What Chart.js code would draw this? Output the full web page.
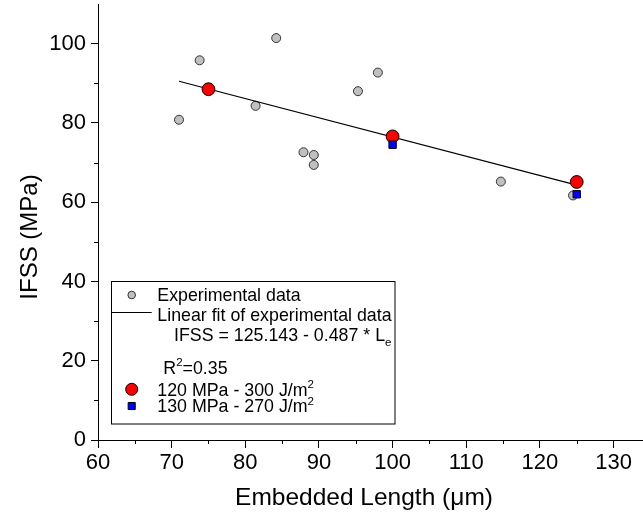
<!DOCTYPE html>
<html><head><meta charset="utf-8">
<script src="https://cdn.jsdelivr.net/npm/chart.js@4.4.1/dist/chart.umd.min.js"></script>
<style>html,body{margin:0;padding:0;background:#fff;}#wrap{position:relative;width:643px;height:516px;}</style>
</head><body><div id="wrap"><canvas id="c" width="643" height="516"></canvas></div>
<script>
// ---- data ----
const expX = [71.0, 73.8, 81.4, 84.2, 87.9, 89.3, 89.3, 95.3, 98.0, 114.7, 124.5];
const expY = [80.8, 95.8, 84.3, 101.4, 72.6, 71.9, 69.4, 88.0, 92.7, 65.2, 61.7];
const fitX = [71.0, 125.0];
const fitY = [90.5, 64.3];
const model120X = [75, 100, 125];
const model120Y = [88.5, 76.6, 65.1];
const model130X = [100, 125];
const model130Y = [74.5, 62.0];
const xMajorTicks = [60, 70, 80, 90, 100, 110, 120, 130];
const xMinorTicks = [65, 75, 85, 95, 105, 115, 125];
const yMajorTicks = [0, 20, 40, 60, 80, 100];
const yMinorTicks = [10, 30, 50, 70, 90];
const seriesNames = ['Experimental data', 'Linear fit of experimental data', '120 MPa - 300 J/m', '130 MPa - 270 J/m'];
const fitEquation = ['IFSS = 125.143 - 0.487 * L', 'e'];
const fitR2 = ['R', '2', '=0.35'];
const xTitle = 'Embedded Length (\u03BCm)';
const yTitle = 'IFSS (MPa)';

const FONT = '"Liberation Sans", Arial, sans-serif';
const pts = (xs, ys) => xs.map((x, i) => ({x: x, y: ys[i]}));

const minorTicks = {
  id: 'minorTicks',
  afterDraw(chart) {
    const ctx = chart.ctx, xs = chart.scales.x, ys = chart.scales.y;
    ctx.save();
    ctx.strokeStyle = '#000'; ctx.lineWidth = 1;
    ctx.beginPath();
    xMinorTicks.forEach(v => { const p = Math.round(xs.getPixelForValue(v)) + 0.5; ctx.moveTo(p, xs.top); ctx.lineTo(p, xs.top + 4); });
    yMinorTicks.forEach(v => { const p = Math.round(ys.getPixelForValue(v)) + 0.5; ctx.moveTo(ys.right, p); ctx.lineTo(ys.right - 4, p); });
    ctx.stroke();
    ctx.restore();
  }
};

const axisTitles = {
  id: 'axisTitles',
  afterDraw(chart) {
    const ctx = chart.ctx;
    ctx.save();
    ctx.fillStyle = '#000';
    ctx.textAlign = 'center'; ctx.textBaseline = 'alphabetic';
    ctx.font = '24.5px ' + FONT;
    ctx.fillText(xTitle, 364, 505);
    ctx.font = '24px ' + FONT;
    ctx.translate(37, 237);
    ctx.rotate(-Math.PI / 2);
    ctx.fillText(yTitle, 0, 0);
    ctx.restore();
  }
};

function rich(ctx, x, y, segs, size) {
  let cx = x;
  segs.forEach(s => {
    const sz = s.k ? size * 0.65 : size;
    ctx.font = sz + 'px ' + FONT;
    const dy = s.k === 'sup' ? -size * 0.42 : (s.k === 'sub' ? size * 0.3 : 0);
    ctx.fillText(s.t, cx, y + dy);
    cx += ctx.measureText(s.t).width;
  });
}

const legendBox = {
  id: 'legendBox',
  afterDraw(chart) {
    const ctx = chart.ctx, H = Chart.helpers;
    const fs = 17.8;
    ctx.save();
    ctx.fillStyle = '#fff';
    ctx.fillRect(111.5, 281.5, 283.5, 142.5);
    ctx.strokeStyle = '#000'; ctx.lineWidth = 1;
    ctx.strokeRect(111.5, 281.5, 283.5, 142.5);
    ctx.textBaseline = 'alphabetic'; ctx.textAlign = 'left';
    // row 1
    ctx.fillStyle = '#c0c0c0'; ctx.strokeStyle = '#333';
    H.drawPoint(ctx, {pointStyle: 'circle', radius: 3.8, rotation: 0, borderWidth: 1}, 131.7, 295);
    ctx.fillStyle = '#000';
    rich(ctx, 157.3, 300.5, [{t: seriesNames[0]}], fs);
    // row 2
    ctx.strokeStyle = '#000'; ctx.lineWidth = 1;
    ctx.beginPath(); ctx.moveTo(111.5, 312.5); ctx.lineTo(151.7, 312.5); ctx.stroke();
    rich(ctx, 157.3, 320.5, [{t: seriesNames[1]}], fs);
    rich(ctx, 174, 340.5, [{t: fitEquation[0]}, {t: fitEquation[1], k: 'sub'}], fs);
    rich(ctx, 163.3, 373.5, [{t: fitR2[0]}, {t: fitR2[1], k: 'sup'}, {t: fitR2[2]}], fs);
    // row 5
    ctx.fillStyle = '#ff0000'; ctx.strokeStyle = '#000';
    H.drawPoint(ctx, {pointStyle: 'circle', radius: 6, rotation: 0, borderWidth: 1}, 131.7, 389.3);
    ctx.fillStyle = '#000';
    rich(ctx, 157.3, 395.5, [{t: seriesNames[2]}, {t: '2', k: 'sup'}], fs);
    // row 6
    ctx.fillStyle = '#0000ff'; ctx.strokeStyle = '#000';
    H.drawPoint(ctx, {pointStyle: 'rect', radius: 5, rotation: 0, borderWidth: 1}, 131.7, 406);
    ctx.fillStyle = '#000';
    rich(ctx, 157.3, 412, [{t: seriesNames[3]}, {t: '2', k: 'sup'}], fs);
    ctx.restore();
  }
};

new Chart(document.getElementById('c'), {
  type: 'scatter',
  data: {
    datasets: [
      {label: seriesNames[0], data: pts(expX, expY), pointStyle: 'circle', pointRadius: 4.5, pointBackgroundColor: '#c0c0c0', pointBorderColor: '#333', pointBorderWidth: 1, order: 3},
      {label: seriesNames[1], data: pts(fitX, fitY), showLine: true, borderColor: '#000', borderWidth: 1.2, pointRadius: 0, order: 2},
      {label: seriesNames[2], data: pts(model120X, model120Y), pointStyle: 'circle', pointRadius: 6.4, pointBackgroundColor: '#ff0000', pointBorderColor: '#000', pointBorderWidth: 1, order: 1},
      {label: seriesNames[3], data: pts(model130X, model130Y), pointStyle: 'rect', pointRadius: 5.2, pointBackgroundColor: '#0000ff', pointBorderColor: '#000', pointBorderWidth: 1, order: 0}
    ]
  },
  options: {
    responsive: false, animation: false, devicePixelRatio: 1,
    layout: {autoPadding: false, padding: {top: 4, left: 0, right: 0, bottom: 0}},
    plugins: {legend: {display: false}, tooltip: {enabled: false}},
    scales: {
      x: {
        type: 'linear', min: 60, max: 134,
        afterFit(s) { s.height = 76; s.paddingLeft = 0; s.paddingRight = 0; },
        afterBuildTicks(s) { s.ticks = xMajorTicks.map(v => ({value: v})); },
        ticks: {color: '#000', font: {family: FONT, size: 22}, padding: 2, maxRotation: 0, autoSkip: false},
        grid: {drawOnChartArea: false, drawTicks: true, tickLength: 8, tickColor: '#000', tickWidth: 1},
        border: {display: true, color: '#000', width: 1},
        title: {display: false}
      },
      y: {
        type: 'linear', min: 0, max: 110,
        afterFit(s) { s.width = 98; s.paddingTop = 0; s.paddingBottom = 0; },
        afterBuildTicks(s) { s.ticks = yMajorTicks.map(v => ({value: v})); },
        ticks: {color: '#000', font: {family: FONT, size: 22}, padding: 5, autoSkip: false},
        grid: {drawOnChartArea: false, drawTicks: true, tickLength: 7, tickColor: '#000', tickWidth: 1},
        border: {display: true, color: '#000', width: 1},
        title: {display: false}
      }
    }
  },
  plugins: [minorTicks, axisTitles, legendBox]
});
</script></body></html>
